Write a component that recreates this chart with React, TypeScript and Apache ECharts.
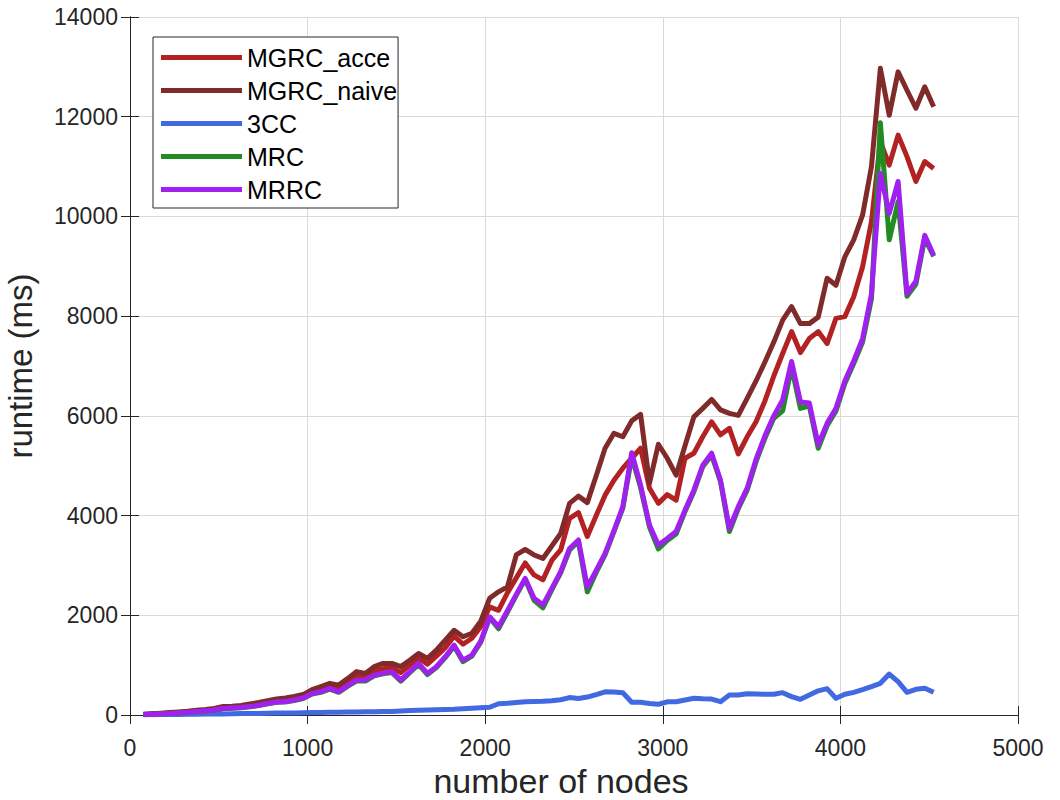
import React, { useEffect, useRef } from "react";
import * as echarts from "echarts";

// number of nodes at each measurement
const nodes: number[] = Array.from({ length: 90 }, (_, k) => 75 + 50 * k);

const mgrcAcce: number[] = [
  12, 22, 30, 42, 52, 65, 82, 95, 115, 150, 160, 175, 200, 230, 265, 295, 310, 345, 380,
  470, 520, 580, 560, 660, 780, 760, 880, 930, 950, 850, 1000, 1150, 1020, 1180, 1350, 1580,
  1420, 1540, 1770, 2170, 2100, 2450, 2750, 3050, 2810, 2710, 3100, 3310, 3945, 4060, 3580,
  4000, 4410, 4710, 4950, 5150, 5350, 4550, 4245, 4420, 4310, 5150, 5250, 5580, 5880, 5620,
  5750, 5235, 5580, 5880, 6300, 6800, 7250, 7690, 7270, 7550, 7690, 7450, 7955, 7990, 8390,
  8990, 9900, 11500, 11030, 11630, 11200, 10700, 11100, 10960,
];

const mgrcNaive: number[] = [
  15, 25, 35, 48, 60, 75, 95, 110, 130, 170, 175, 190, 220, 250, 285, 320, 340, 370, 410,
  510, 570, 635, 600, 730, 870, 835, 970, 1035, 1035, 970, 1100, 1235, 1135, 1300, 1500, 1700,
  1570, 1640, 1880, 2340, 2470, 2570, 3210, 3320, 3210, 3140, 3390, 3640, 4245, 4390, 4260,
  4800, 5350, 5650, 5580, 5900, 6030, 4650, 5430, 5150, 4810, 5400, 5980, 6150, 6330, 6120,
  6050, 6010, 6350, 6700, 7080, 7480, 7920, 8190, 7850, 7850, 7980, 8760, 8620, 9190, 9530,
  10030, 11000, 12970, 12030, 12900, 12530, 12170, 12600, 12200,
];

const threeCC: number[] = [
  5, 6, 8, 10, 12, 14, 16, 18, 20, 22, 25, 28, 30, 32, 35, 38, 40, 42, 45,
  48, 50, 53, 56, 58, 60, 63, 65, 68, 72, 80, 88, 95, 100, 105, 110, 115,
  125, 135, 145, 155, 225, 235, 250, 265, 270, 275, 285, 305, 350, 330, 360,
  410, 465, 460, 445, 255, 255, 230, 215, 265, 265, 300, 335, 325, 320, 268,
  400, 400, 428, 420, 415, 415, 448, 368, 314, 400, 485, 528, 334, 415, 455,
  510, 570, 635, 822, 668, 455, 515, 535, 455,
];

const mrc: number[] = [
  6, 13, 20, 30, 40, 52, 66, 80, 95, 125, 135, 145, 165, 190, 225, 255, 262, 290, 330,
  420, 455, 520, 455, 575, 680, 680, 785, 825, 850, 680, 850, 1010, 810, 950, 1150, 1380,
  1070, 1180, 1460, 1950, 1730, 2060, 2400, 2720, 2300, 2150, 2510, 2850, 3310, 3480, 2470,
  2860, 3210, 3680, 4150, 5180, 4560, 3770, 3330, 3500, 3630, 4080, 4480, 4980, 5210, 4680,
  3680, 4140, 4510, 5080, 5550, 5950, 6100, 6980, 6150, 6200, 5350, 5800, 6100, 6650, 7050,
  7480, 8350, 11880, 9530, 10300, 8400, 8640, 9560, 9200,
];

const mrrc: number[] = [
  8, 15, 22, 32, 42, 55, 70, 85, 100, 130, 140, 150, 170, 195, 230, 260, 270, 300, 340,
  430, 470, 535, 470, 590, 700, 700, 800, 840, 870, 700, 870, 1035, 835, 970, 1170, 1400,
  1100, 1200, 1480, 1970, 1770, 2090, 2420, 2740, 2340, 2210, 2540, 2875, 3340, 3510, 2570,
  2900, 3240, 3700, 4180, 5260, 4610, 3810, 3410, 3540, 3680, 4110, 4510, 5010, 5250, 4710,
  3740, 4180, 4550, 5130, 5600, 6000, 6320, 7090, 6280, 6260, 5420, 5850, 6150, 6700, 7100,
  7550, 8450, 10860, 10060, 10700, 8450, 8700, 9620, 9220,
];

const seriesNames = ["MGRC_acce", "MGRC_naive", "3CC", "MRC", "MRRC"];
const seriesColors = ["#B22222", "#802A2A", "#4169E1", "#228B22", "#A020F0"];
const seriesValues = [mgrcAcce, mgrcNaive, threeCC, mrc, mrrc];

const FONT = "'Liberation Sans', Arial, Helvetica, sans-serif";
const AXIS_COLOR = "#262626";
const GRID_COLOR = "#d9d9d9";

const plainNumber = (v: number) => String(v);

export default function App() {
  const ref = useRef<HTMLDivElement>(null);

  useEffect(() => {
    if (!ref.current) return;
    const chart = echarts.init(ref.current, undefined, { renderer: "svg" });

    const tickStyle = { show: true, inside: true, length: 9, lineStyle: { color: AXIS_COLOR, width: 1 } };
    const lineStyle = { show: true, lineStyle: { color: AXIS_COLOR, width: 1 } };

    chart.setOption({
      animation: false,
      backgroundColor: "#ffffff",
      textStyle: { fontFamily: FONT },
      grid: { left: 130, right: 42, top: 17, bottom: 85, show: false, outerBoundsMode: "none", containLabel: false },
      legend: {
        left: 153,
        top: 37,
        orient: "vertical",
        icon: "rect",
        itemWidth: 81,
        itemHeight: 5,
        itemGap: 6,
        padding: [7, 1, 5, 8],
        backgroundColor: "#ffffff",
        borderColor: AXIS_COLOR,
        borderWidth: 1,
        borderRadius: 0,
        textStyle: { fontFamily: FONT, fontSize: 25, color: "#000000", lineHeight: 27 },
        data: seriesNames,
      },
      xAxis: [
        {
          type: "value",
          min: 0,
          max: 5000,
          interval: 1000,
          name: "number of nodes",
          nameLocation: "middle",
          nameGap: 48,
          nameTextStyle: { fontFamily: FONT, fontSize: 34, color: AXIS_COLOR, padding: [0, 26, 0, 0] },
          axisLine: lineStyle,
          axisTick: tickStyle,
          axisLabel: { fontFamily: FONT, fontSize: 23, color: AXIS_COLOR, margin: 21, formatter: plainNumber },
          splitLine: { show: true, lineStyle: { color: GRID_COLOR, width: 1 } },
        },
        {
          type: "value",
          position: "top",
          min: 0,
          max: 5000,
          interval: 1000,
          axisLine: lineStyle,
          axisTick: tickStyle,
          axisLabel: { show: false },
          splitLine: { show: false },
        },
      ],
      yAxis: [
        {
          type: "value",
          min: 0,
          max: 14000,
          interval: 2000,
          name: "runtime (ms)",
          nameLocation: "middle",
          nameGap: 93,
          nameTextStyle: { fontFamily: FONT, fontSize: 33, color: AXIS_COLOR },
          axisLine: lineStyle,
          axisTick: tickStyle,
          axisLabel: { fontFamily: FONT, fontSize: 23, color: AXIS_COLOR, margin: 12, formatter: plainNumber },
          splitLine: { show: true, lineStyle: { color: GRID_COLOR, width: 1 } },
        },
        {
          type: "value",
          position: "right",
          min: 0,
          max: 14000,
          interval: 2000,
          axisLine: lineStyle,
          axisTick: tickStyle,
          axisLabel: { show: false },
          splitLine: { show: false },
        },
      ],
      series: seriesNames.map((name, i) => ({
        name,
        type: "line",
        xAxisIndex: 0,
        yAxisIndex: 0,
        showSymbol: false,
        symbol: "none",
        color: seriesColors[i],
        lineStyle: { color: seriesColors[i], width: 5, join: "round" },
        data: nodes.map((n, k) => [n, seriesValues[i][k]]),
        z: 2 + i,
      })),
    });

    return () => chart.dispose();
  }, []);

  return (
    <div
      ref={ref}
      style={{ position: "absolute", left: 0, top: 0, width: 1060, height: 800 }}
    />
  );
}
